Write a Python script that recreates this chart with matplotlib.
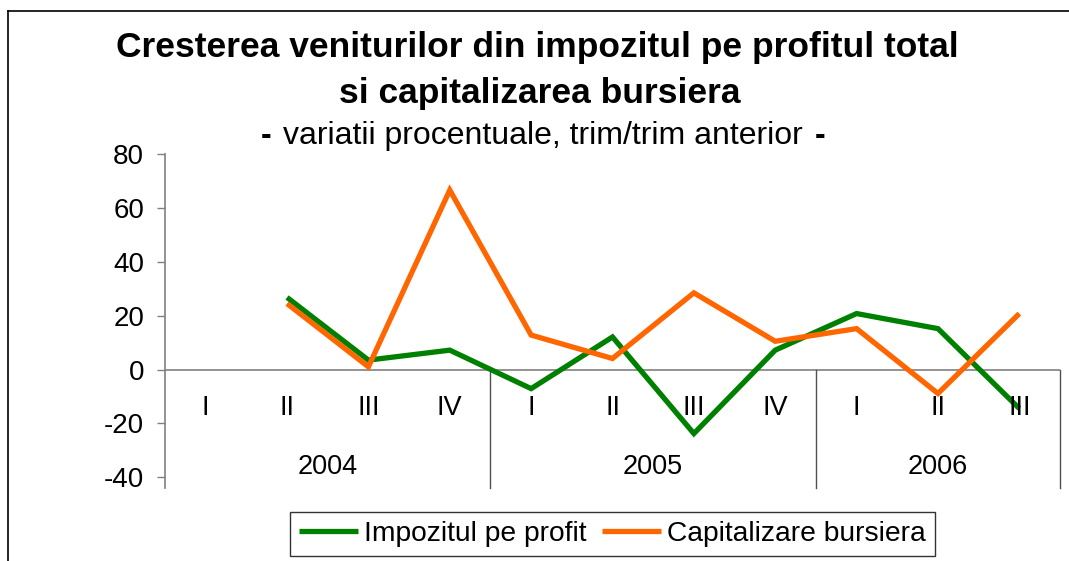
import numpy as np
import matplotlib
matplotlib.use("Agg")
import matplotlib.pyplot as plt
from matplotlib.lines import Line2D

plt.rcParams['font.family'] = ['Liberation Sans', 'DejaVu Sans']
plt.rcParams['axes.unicode_minus'] = False

quarters = ["I", "II", "III", "IV", "I", "II", "III", "IV", "I", "II", "III"]
years = ["2004", "2005", "2006"]
year_spans = [(0, 3), (4, 7), (8, 10)]
impozit = [np.nan, 26.8, 3.5, 7.2, -7.1, 12.1, -23.8, 7.2, 20.8, 15.2, -14.5]
capitalizare = [np.nan, 24.5, 1.0, 66.7, 12.8, 4.1, 28.5, 10.5, 15.2, -8.9, 20.8]
yticks = [-40, -20, 0, 20, 40, 60, 80]

W, H = 1069, 561
fig = plt.figure(figsize=(W / 100, H / 100), dpi=100)
ax = fig.add_axes([165 / W, 1 - 487.9 / H, (1060 - 165) / W, (487.9 - 154.3) / H])

x = np.arange(len(quarters))
green = '#008000'
orange = '#FF6600'
l1, = ax.plot(x, impozit, color=green, lw=3.8, solid_capstyle='butt', solid_joinstyle='miter',
              label='Impozitul pe profit', zorder=3)
l2, = ax.plot(x, capitalizare, color=orange, lw=3.8, solid_capstyle='butt', solid_joinstyle='miter',
              label='Capitalizare bursiera', zorder=4)

ax.set_xlim(-0.5, len(quarters) - 0.5)
ax.set_ylim(-44, 80)
ax.set_yticks(yticks)
ax.set_xticks([])
for s in ['top', 'right', 'bottom']:
    ax.spines[s].set_visible(False)
ax.spines['left'].set_color('#808080')
ax.spines['left'].set_linewidth(1.2)
ax.tick_params(axis='y', direction='out', length=6, width=1, color='#808080',
               labelsize=20, pad=9)
ax.axhline(0, color='#808080', lw=1.2, zorder=2)

# category axis labels and separators
for i, q in enumerate(quarters):
    ax.text(i, -14.4, q, ha='center', va='center', fontsize=19.5)
for (a, b), yr in zip(year_spans, years):
    ax.text((a + b) / 2, -36.3, yr, ha='center', va='center', fontsize=19.5)
    ax.plot([b + 0.5, b + 0.5], [0, -44], color='#505050', lw=1, clip_on=False, zorder=2)

# titles
fig.text(537.5 / W, 1 - 48 / H, "Cresterea veniturilor din impozitul pe profitul total",
         ha='center', va='center', fontsize=25.5, weight='bold')
fig.text(540 / W, 1 - 93 / H, "si capitalizarea bursiera",
         ha='center', va='center', fontsize=25.5, weight='bold')
sub = fig.text(543 / W, 1 - 136 / H, "variatii procentuale, trim/trim anterior",
               ha='center', va='center', fontsize=23)
fig.canvas.draw()
bb = sub.get_window_extent()
fig.text((bb.x0 - 12) / W, 1 - 136 / H, "-", ha='right', va='center', fontsize=23, weight='bold')
fig.text((bb.x1 + 12) / W, 1 - 136 / H, "-", ha='left', va='center', fontsize=23, weight='bold')

# figure border (left and top)
fig.add_artist(Line2D([8 / W, 8 / W], [0, 1 - 11 / H], transform=fig.transFigure, color='black', lw=1.2))
fig.add_artist(Line2D([8 / W, 1], [1 - 11 / H, 1 - 11 / H], transform=fig.transFigure, color='black', lw=1.2))

leg = fig.legend(handles=[l1, l2], loc='center', bbox_to_anchor=(612.5 / W, 1 - 534 / H),
                 ncol=2, frameon=True, fancybox=False, edgecolor='black', fontsize=20.3,
                 handlelength=2.1, handletextpad=0.2, columnspacing=0.55, borderpad=0.32,
                 borderaxespad=0)
leg.get_frame().set_linewidth(1)

fig.savefig("out.png", dpi=100)
